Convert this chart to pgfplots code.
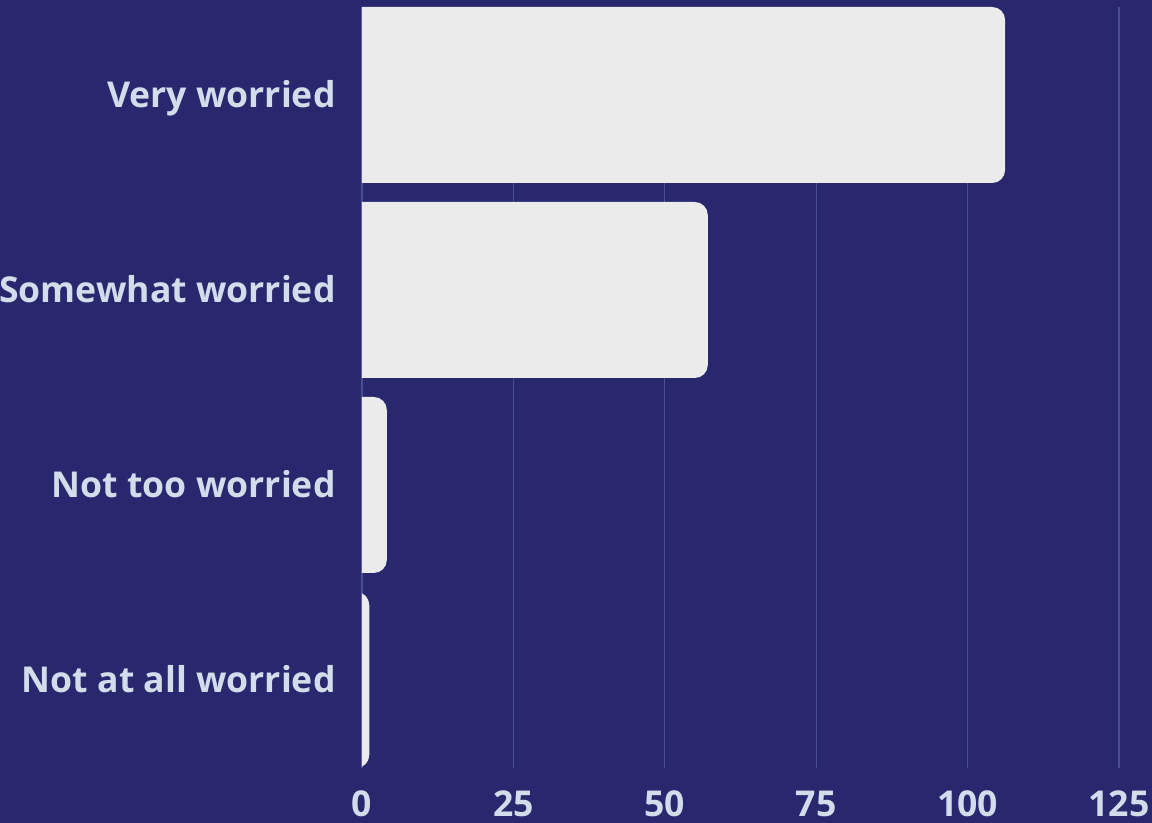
\documentclass[border=0pt]{standalone}
\usepackage{fontspec}
\setmainfont{Open Sans}
\usepackage{pgfplots}
\pgfplotsset{compat=1.18}
\usepackage{pgfplotstable}
\usetikzlibrary{backgrounds}
\definecolor{bg}{HTML}{29286F}
\definecolor{barc}{HTML}{EBEBEB}
\definecolor{txt}{HTML}{D3DCEB}
\definecolor{gridc}{HTML}{4B4F90}

\pgfplotstableread{
pos value
3 106.2
2 57.1
1 4.1
0 1.2
}\datatable

\begin{document}
\begin{tikzpicture}
\begin{axis}[
  scale only axis, width=378.5pt, height=380.5pt,
  xmin=0, xmax=125, ymin=-0.4513, ymax=3.4513,
  xtick={0,25,...,125}, ytick={0,1,2,3},
  yticklabels={Not at all worried, Not too worried, Somewhat worried, Very worried},
  axis line style={draw=none}, tick style={draw=none},
  xmajorgrids, grid style={gridc, line width=0.6pt},
  ticklabel style={font=\fontsize{17.8}{20}\selectfont\bfseries, text=txt},
  yticklabel style={inner sep=0pt, anchor=base east, xshift=-13pt, yshift=-6.5pt},
  xticklabel style={inner sep=0pt, anchor=base, yshift=-24.3pt},
  /pgf/number format/assume math mode=true,
  clip=true,
]
% bars start 10pt left of x=0 (clipped there), so only their right corners show rounded
\addplot[xbar, bar width=88pt, bar shift=0pt, fill=barc, draw=none, rounded corners=6.5pt,
  x filter/.expression={x+3.3025}, xshift=-10pt] table[x=value,y=pos]{\datatable};
\end{axis}
\pgfresetboundingbox
\begin{scope}[on background layer]
\fill[bg] ([shift={(-181pt,-27.5pt)}]current axis.south west) rectangle ([shift={(16.5pt,3.5pt)}]current axis.north east);
\end{scope}
\end{tikzpicture}
\end{document}
